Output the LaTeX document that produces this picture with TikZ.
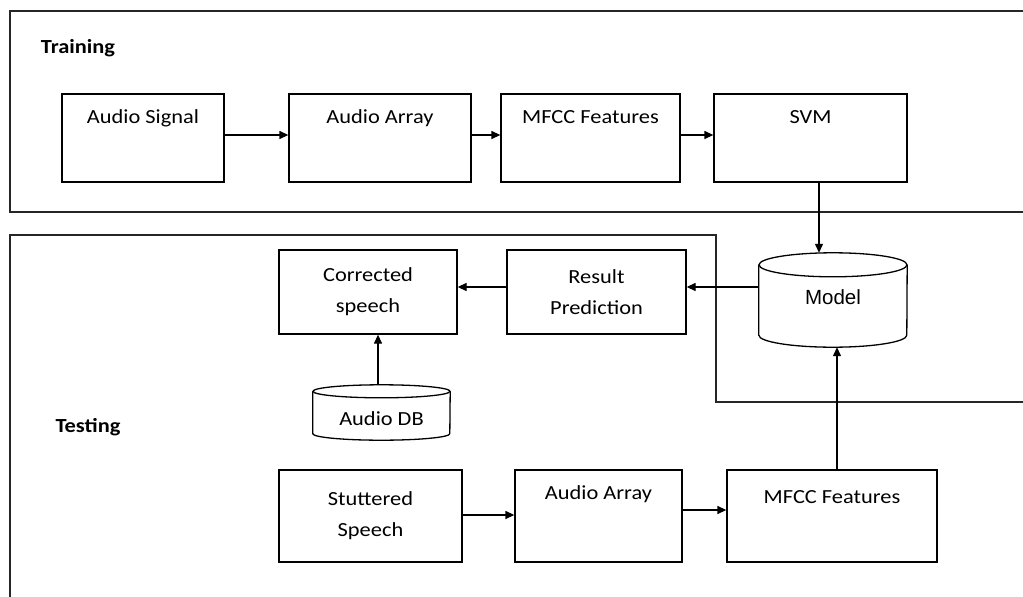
\documentclass[tikz,border=0pt]{standalone}
\usepackage{fontspec}
\setmainfont{Carlito}[FakeStretch=1.12]
\newfontfamily\arialfont{Liberation Sans}
\usetikzlibrary{arrows.meta}
\begin{document}
\begin{tikzpicture}[x=1pt,y=1pt,
  every node/.style={font=\fontsize{20}{31}\selectfont},
  frame/.style={line width=1.5pt, draw=black!85},
  box/.style={draw, line width=1.3pt, inner sep=0pt, align=center},
  lbl/.style={inner sep=0pt, anchor=base},
  cyl/.style={line width=1.3pt},
  arr/.style={line width=1.3pt, -{Triangle[length=9pt,width=8pt]}}]
\useasboundingbox[fill=white] (0,0) rectangle (1023,-597);

% frames
\draw[frame] (1023,-11) -- (10,-11) -- (10,-212) -- (1023,-212);
\draw[frame] (10,-597) -- (10,-235) -- (716,-235) -- (716,-402) -- (1023,-402);

\node[font=\fontsize{20}{24}\selectfont\bfseries] (train) at (78,-48) {Training};
\node[font=\fontsize{20}{24}\selectfont\bfseries] (test) at (88,-427) {Testing};

% training boxes
\node[box, minimum width=162pt, minimum height=88pt] (sig) at (143,-138) {};
\node[lbl] (sigt) at ([yshift=-30pt]sig.north) {Audio Signal};
\node[box, minimum width=182pt, minimum height=88pt] (arr1) at (380,-138) {};
\node[lbl] (arr1t) at ([yshift=-30pt]arr1.north) {Audio Array};
\node[box, minimum width=179pt, minimum height=88pt] (mfcc1) at (590.5,-138) {};
\node[lbl] (mfcc1t) at ([yshift=-30pt]mfcc1.north) {MFCC Features};
\node[box, minimum width=193pt, minimum height=88pt] (svm) at (810.5,-138) {};
\node[lbl] (svmt) at ([yshift=-30pt]svm.north) {SVM};

\draw[arr] ([yshift=3pt]sig.east) -- ([yshift=3pt]arr1.west);
\draw[arr] ([yshift=3pt]arr1.east) -- ([yshift=3pt]mfcc1.west);
\draw[arr] ([yshift=3pt]mfcc1.east) -- ([yshift=3pt]svm.west);

% testing
\node[box, minimum width=178pt, minimum height=84pt] (corr) at (368,-292) {Corrected\\speech};
\node[box, minimum width=179pt, minimum height=84pt] (res) at (596.5,-292) {Result\\Prediction};

\node[minimum width=148pt, minimum height=94pt, inner sep=0pt] (model) at (833,-300) {};
\draw[cyl] ([yshift=-12pt]model.north west) -- ([yshift=12pt]model.south west)
  arc[start angle=180, end angle=360, x radius=74pt, y radius=12pt]
  -- ([yshift=-12pt]model.north east);
\draw[cyl] ([yshift=-12pt]model.north) ellipse[x radius=74pt, y radius=12pt];
\node[inner sep=0pt, font=\arialfont\fontsize{20.5}{24}\selectfont] (modelt) at ([yshift=3pt]model.center) {Model};

\node[minimum width=137pt, minimum height=55pt, inner sep=0pt] (db) at (381.5,-412.5) {};
\draw[cyl] ([yshift=-6.5pt]db.north west) -- ([yshift=6.5pt]db.south west)
  arc[start angle=180, end angle=360, x radius=68.5pt, y radius=6.5pt]
  -- ([yshift=-6.5pt]db.north east);
\draw[cyl] ([yshift=-6.5pt]db.north) ellipse[x radius=68.5pt, y radius=6.5pt];
\node[inner sep=0pt] (dbt) at ([yshift=-6pt]db.center) {Audio DB};

\node[box, minimum width=183pt, minimum height=92pt] (stut) at (370.5,-516) {Stuttered\\Speech};
\node[box, minimum width=167pt, minimum height=92pt] (arr2) at (598.5,-516) {};
\node[lbl] (arr2t) at ([yshift=-30pt]arr2.north) {Audio Array};
\node[box, minimum width=210pt, minimum height=92pt] (mfcc2) at (832,-516) {};
\node[lbl] (mfcc2t) at ([yshift=-34pt]mfcc2.north) {MFCC Features};

% connectors
\coordinate (svmo) at ([xshift=8.5pt]svm.south);
\draw[arr] (svmo) -- (svmo |- model.north);
\coordinate (mf2o) at ([xshift=5pt]mfcc2.north);
\draw[arr] (mf2o) -- (mf2o |- model.south);
\draw[arr] (model.west |- res.east) ++(0,5) -- ([yshift=5pt]res.east);
\draw[arr] ([yshift=5pt]res.west) -- ([yshift=5pt]corr.east);
\coordinate (dbo) at ([xshift=-3.5pt]db.north);
\draw[arr] (dbo) -- (dbo |- corr.south);
\draw[arr] ([yshift=1pt]stut.east) -- ([yshift=1pt]arr2.west);
\draw[arr] ([yshift=6pt]arr2.east) -- ([yshift=6pt]mfcc2.west);
\end{tikzpicture}
\end{document}
